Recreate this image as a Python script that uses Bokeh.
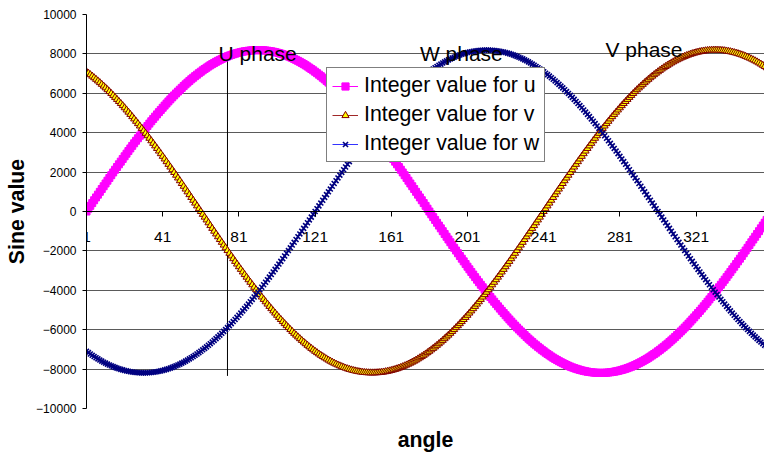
from bokeh.plotting import figure
from bokeh.models import Range1d, FixedTicker, Legend, LegendItem, LinearAxis
from bokeh.embed import file_html
from bokeh.resources import INLINE
from bokeh.core.properties import value

FONT = "Liberation Sans"

angle = list(range(1, 361))

u_values = [
    0, 143, 286, 428, 572, 714, 856, 999, 1140, 1281,
    1422, 1563, 1703, 1843, 1982, 2120, 2258, 2395, 2531, 2667,
    2802, 2936, 3069, 3201, 3332, 3462, 3591, 3719, 3846, 3971,
    4096, 4219, 4341, 4461, 4581, 4699, 4815, 4930, 5044, 5155,
    5266, 5375, 5481, 5587, 5691, 5793, 5893, 5992, 6087, 6183,
    6275, 6366, 6455, 6542, 6627, 6711, 6791, 6871, 6947, 7022,
    7094, 7165, 7233, 7299, 7363, 7424, 7483, 7541, 7596, 7648,
    7698, 7746, 7791, 7834, 7875, 7913, 7949, 7982, 8013, 8041,
    8067, 8091, 8112, 8131, 8147, 8161, 8172, 8181, 8187, 8190,
    8192, 8190, 8187, 8181, 8172, 8161, 8147, 8131, 8112, 8091,
    8067, 8041, 8013, 7982, 7949, 7913, 7875, 7834, 7791, 7746,
    7698, 7648, 7596, 7541, 7483, 7424, 7363, 7299, 7233, 7165,
    7094, 7022, 6947, 6871, 6791, 6711, 6627, 6542, 6455, 6366,
    6275, 6183, 6087, 5992, 5893, 5793, 5691, 5587, 5481, 5375,
    5266, 5155, 5044, 4930, 4815, 4699, 4581, 4461, 4341, 4219,
    4096, 3971, 3846, 3719, 3591, 3462, 3332, 3201, 3069, 2936,
    2802, 2667, 2531, 2395, 2258, 2120, 1982, 1843, 1703, 1563,
    1422, 1281, 1140, 999, 856, 714, 572, 428, 286, 143,
    0, -143, -286, -428, -572, -714, -856, -999, -1140, -1281,
    -1422, -1563, -1703, -1843, -1982, -2120, -2258, -2395, -2531, -2667,
    -2802, -2936, -3069, -3201, -3332, -3462, -3591, -3719, -3846, -3971,
    -4096, -4219, -4341, -4461, -4581, -4699, -4815, -4930, -5044, -5155,
    -5266, -5375, -5481, -5587, -5691, -5793, -5893, -5992, -6087, -6183,
    -6275, -6366, -6455, -6542, -6627, -6711, -6791, -6871, -6947, -7022,
    -7094, -7165, -7233, -7299, -7363, -7424, -7483, -7541, -7596, -7648,
    -7698, -7746, -7791, -7834, -7875, -7913, -7949, -7982, -8013, -8041,
    -8067, -8091, -8112, -8131, -8147, -8161, -8172, -8181, -8187, -8190,
    -8192, -8190, -8187, -8181, -8172, -8161, -8147, -8131, -8112, -8091,
    -8067, -8041, -8013, -7982, -7949, -7913, -7875, -7834, -7791, -7746,
    -7698, -7648, -7596, -7541, -7483, -7424, -7363, -7299, -7233, -7165,
    -7094, -7022, -6947, -6871, -6791, -6711, -6627, -6542, -6455, -6366,
    -6275, -6183, -6087, -5992, -5893, -5793, -5691, -5587, -5481, -5375,
    -5266, -5155, -5044, -4930, -4815, -4699, -4581, -4461, -4341, -4219,
    -4096, -3971, -3846, -3719, -3591, -3462, -3332, -3201, -3069, -2936,
    -2802, -2667, -2531, -2395, -2258, -2120, -1982, -1843, -1703, -1563,
    -1422, -1281, -1140, -999, -856, -714, -572, -428, -286, -143,
]

v_values = [
    7094, 7022, 6947, 6871, 6791, 6711, 6627, 6542, 6455, 6366,
    6275, 6183, 6087, 5992, 5893, 5793, 5691, 5587, 5481, 5375,
    5266, 5155, 5044, 4930, 4815, 4699, 4581, 4461, 4341, 4219,
    4096, 3971, 3846, 3719, 3591, 3462, 3332, 3201, 3069, 2936,
    2802, 2667, 2531, 2395, 2258, 2120, 1982, 1843, 1703, 1563,
    1422, 1281, 1140, 999, 856, 714, 572, 428, 286, 143,
    0, -143, -286, -428, -572, -714, -856, -999, -1140, -1281,
    -1422, -1563, -1703, -1843, -1982, -2120, -2258, -2395, -2531, -2667,
    -2802, -2936, -3069, -3201, -3332, -3462, -3591, -3719, -3846, -3971,
    -4096, -4219, -4341, -4461, -4581, -4699, -4815, -4930, -5044, -5155,
    -5266, -5375, -5481, -5587, -5691, -5793, -5893, -5992, -6087, -6183,
    -6275, -6366, -6455, -6542, -6627, -6711, -6791, -6871, -6947, -7022,
    -7094, -7165, -7233, -7299, -7363, -7424, -7483, -7541, -7596, -7648,
    -7698, -7746, -7791, -7834, -7875, -7913, -7949, -7982, -8013, -8041,
    -8067, -8091, -8112, -8131, -8147, -8161, -8172, -8181, -8187, -8190,
    -8192, -8190, -8187, -8181, -8172, -8161, -8147, -8131, -8112, -8091,
    -8067, -8041, -8013, -7982, -7949, -7913, -7875, -7834, -7791, -7746,
    -7698, -7648, -7596, -7541, -7483, -7424, -7363, -7299, -7233, -7165,
    -7094, -7022, -6947, -6871, -6791, -6711, -6627, -6542, -6455, -6366,
    -6275, -6183, -6087, -5992, -5893, -5793, -5691, -5587, -5481, -5375,
    -5266, -5155, -5044, -4930, -4815, -4699, -4581, -4461, -4341, -4219,
    -4096, -3971, -3846, -3719, -3591, -3462, -3332, -3201, -3069, -2936,
    -2802, -2667, -2531, -2395, -2258, -2120, -1982, -1843, -1703, -1563,
    -1422, -1281, -1140, -999, -856, -714, -572, -428, -286, -143,
    0, 143, 286, 428, 572, 714, 856, 999, 1140, 1281,
    1422, 1563, 1703, 1843, 1982, 2120, 2258, 2395, 2531, 2667,
    2802, 2936, 3069, 3201, 3332, 3462, 3591, 3719, 3846, 3971,
    4096, 4219, 4341, 4461, 4581, 4699, 4815, 4930, 5044, 5155,
    5266, 5375, 5481, 5587, 5691, 5793, 5893, 5992, 6087, 6183,
    6275, 6366, 6455, 6542, 6627, 6711, 6791, 6871, 6947, 7022,
    7094, 7165, 7233, 7299, 7363, 7424, 7483, 7541, 7596, 7648,
    7698, 7746, 7791, 7834, 7875, 7913, 7949, 7982, 8013, 8041,
    8067, 8091, 8112, 8131, 8147, 8161, 8172, 8181, 8187, 8190,
    8192, 8190, 8187, 8181, 8172, 8161, 8147, 8131, 8112, 8091,
    8067, 8041, 8013, 7982, 7949, 7913, 7875, 7834, 7791, 7746,
    7698, 7648, 7596, 7541, 7483, 7424, 7363, 7299, 7233, 7165,
]

w_values = [
    -7094, -7165, -7233, -7299, -7363, -7424, -7483, -7541, -7596, -7648,
    -7698, -7746, -7791, -7834, -7875, -7913, -7949, -7982, -8013, -8041,
    -8067, -8091, -8112, -8131, -8147, -8161, -8172, -8181, -8187, -8190,
    -8192, -8190, -8187, -8181, -8172, -8161, -8147, -8131, -8112, -8091,
    -8067, -8041, -8013, -7982, -7949, -7913, -7875, -7834, -7791, -7746,
    -7698, -7648, -7596, -7541, -7483, -7424, -7363, -7299, -7233, -7165,
    -7094, -7022, -6947, -6871, -6791, -6711, -6627, -6542, -6455, -6366,
    -6275, -6183, -6087, -5992, -5893, -5793, -5691, -5587, -5481, -5375,
    -5266, -5155, -5044, -4930, -4815, -4699, -4581, -4461, -4341, -4219,
    -4096, -3971, -3846, -3719, -3591, -3462, -3332, -3201, -3069, -2936,
    -2802, -2667, -2531, -2395, -2258, -2120, -1982, -1843, -1703, -1563,
    -1422, -1281, -1140, -999, -856, -714, -572, -428, -286, -143,
    0, 143, 286, 428, 572, 714, 856, 999, 1140, 1281,
    1422, 1563, 1703, 1843, 1982, 2120, 2258, 2395, 2531, 2667,
    2802, 2936, 3069, 3201, 3332, 3462, 3591, 3719, 3846, 3971,
    4096, 4219, 4341, 4461, 4581, 4699, 4815, 4930, 5044, 5155,
    5266, 5375, 5481, 5587, 5691, 5793, 5893, 5992, 6087, 6183,
    6275, 6366, 6455, 6542, 6627, 6711, 6791, 6871, 6947, 7022,
    7094, 7165, 7233, 7299, 7363, 7424, 7483, 7541, 7596, 7648,
    7698, 7746, 7791, 7834, 7875, 7913, 7949, 7982, 8013, 8041,
    8067, 8091, 8112, 8131, 8147, 8161, 8172, 8181, 8187, 8190,
    8192, 8190, 8187, 8181, 8172, 8161, 8147, 8131, 8112, 8091,
    8067, 8041, 8013, 7982, 7949, 7913, 7875, 7834, 7791, 7746,
    7698, 7648, 7596, 7541, 7483, 7424, 7363, 7299, 7233, 7165,
    7094, 7022, 6947, 6871, 6791, 6711, 6627, 6542, 6455, 6366,
    6275, 6183, 6087, 5992, 5893, 5793, 5691, 5587, 5481, 5375,
    5266, 5155, 5044, 4930, 4815, 4699, 4581, 4461, 4341, 4219,
    4096, 3971, 3846, 3719, 3591, 3462, 3332, 3201, 3069, 2936,
    2802, 2667, 2531, 2395, 2258, 2120, 1982, 1843, 1703, 1563,
    1422, 1281, 1140, 999, 856, 714, 572, 428, 286, 143,
    0, -143, -286, -428, -572, -714, -856, -999, -1140, -1281,
    -1422, -1563, -1703, -1843, -1982, -2120, -2258, -2395, -2531, -2667,
    -2802, -2936, -3069, -3201, -3332, -3462, -3591, -3719, -3846, -3971,
    -4096, -4219, -4341, -4461, -4581, -4699, -4815, -4930, -5044, -5155,
    -5266, -5375, -5481, -5587, -5691, -5793, -5893, -5992, -6087, -6183,
    -6275, -6366, -6455, -6542, -6627, -6711, -6791, -6871, -6947, -7022,
]

series_names = ["Integer value for u", "Integer value for v", "Integer value for w"]
x_ticks = [1, 41, 81, 121, 161, 201, 241, 281, 321]
y_ticks = [-10000, -8000, -6000, -4000, -2000, 0, 2000, 4000, 6000, 8000, 10000]

phase_labels = ["U phase", "W phase", "V phase"]
phase_x = [70.3, 176.0, 273.4]
phase_y = [8045, 8045, 8246]

marker_line_x = [75]
marker_line_top = [7945]
marker_line_bottom = [-8346]

p = figure(
    width=764, height=454,
    output_backend="svg", toolbar_location=None,
    x_range=Range1d(1, 356.9), y_range=Range1d(-10000, 10000),
    min_border_left=86, min_border_right=0, min_border_top=14, min_border_bottom=41,
    background_fill_color="white", border_fill_color="white",
)
p.outline_line_color = None

# x axis crossing at zero
p.xaxis.fixed_location = 0
p.xaxis.ticker = FixedTicker(ticks=x_ticks)
p.xaxis.major_label_text_font = FONT
p.xaxis.major_label_text_font_size = "15.5px"
p.xaxis.major_label_text_color = "black"
p.xaxis.major_tick_out = 5
p.xaxis.major_tick_in = 0
p.xaxis.minor_tick_out = 0
p.xaxis.minor_tick_in = 0
p.xaxis.major_label_standoff = 15
p.xaxis.axis_line_color = "black"
p.xaxis.major_tick_line_color = "black"

# title-only axis at the bottom for "angle"
title_axis = LinearAxis(
    ticker=FixedTicker(ticks=[]), axis_label="angle",
    axis_label_text_font=FONT, axis_label_text_font_size="21.3px",
    axis_label_text_font_style="bold", axis_label_text_color="black",
    axis_label_standoff=19, major_label_standoff=0,
    major_tick_out=0, major_tick_in=0, minor_tick_out=0, minor_tick_in=0,
    axis_line_color=None, major_label_text_font_size="0px",
)
p.add_layout(title_axis, "below")

p.yaxis.ticker = FixedTicker(ticks=y_ticks)
p.yaxis.major_label_text_font = FONT
p.yaxis.major_label_text_font_size = "12px"
p.yaxis.major_label_text_color = "black"
p.yaxis.major_tick_out = 4
p.yaxis.major_tick_in = 0
p.yaxis.minor_tick_out = 0
p.yaxis.minor_tick_in = 0
p.yaxis.major_label_standoff = 6
p.yaxis.axis_line_color = "black"
p.yaxis.major_tick_line_color = "black"
p.yaxis.axis_label = "Sine value"
p.yaxis.axis_label_text_font = FONT
p.yaxis.axis_label_text_font_size = "21.3px"
p.yaxis.axis_label_text_font_style = "bold"
p.yaxis.axis_label_text_color = "black"
p.yaxis.axis_label_standoff = 4

p.xgrid.visible = False
p.ygrid.grid_line_color = "#5a5a5a"
p.ygrid.grid_line_width = 1

# vertical marker line (drawn shape)
p.segment(x0=marker_line_x, y0=marker_line_top, x1=marker_line_x, y1=marker_line_bottom,
          line_color="black", line_width=1)

# series
lu = p.line(angle, u_values, line_color="#FF00FF", line_width=1)
su = p.scatter(angle, u_values, marker="square", size=7,
               fill_color="#FF00FF", line_color="#FF00FF", line_width=1)
lv = p.line(angle, v_values, line_color="#A02828", line_width=1)
sv = p.scatter(angle, v_values, marker="triangle", size=7,
               fill_color="#FFFF00", line_color="#800000", line_width=1)
lw = p.line(angle, w_values, line_color="#3333FF", line_width=1)
sw = p.scatter(angle, w_values, marker="x", size=7,
               line_color="#000080", line_width=1.6)

# phase labels
p.text(x=phase_x, y=phase_y, text=phase_labels,
       text_font=value(FONT), text_font_size="21px", text_color="black",
       text_align="left", text_baseline="alphabetic")

legend = Legend(
    items=[
        LegendItem(label=series_names[0], renderers=[lu, su]),
        LegendItem(label=series_names[1], renderers=[lv, sv]),
        LegendItem(label=series_names[2], renderers=[lw, sw]),
    ],
    location=(240, 246),
    label_text_font=FONT, label_text_font_size="21.3px", label_text_color="black",
    glyph_width=26, glyph_height=18, label_height=18, label_standoff=6,
    spacing=4, padding=5, margin=0,
    border_line_color="black", border_line_width=1,
    background_fill_color="white", background_fill_alpha=1,
)
p.add_layout(legend)

open("out.html", "w").write(file_html(p, INLINE))
